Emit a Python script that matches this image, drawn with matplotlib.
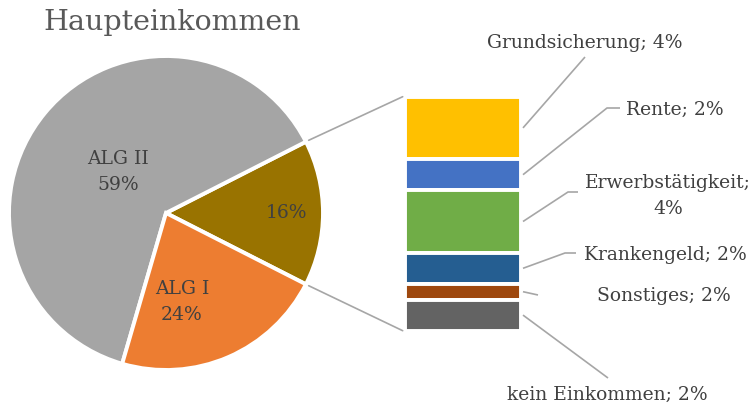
import numpy as np
import matplotlib.pyplot as plt
from matplotlib.patches import ConnectionPatch

plt.rcParams['font.family'] = ['DejaVu Serif']

title = "Haupteinkommen"

# main pie (first slice is the one split into the bar)
pie_categories = ["Sonstige", "ALG II", "ALG I"]
pie_values = [15, 63, 22]
pie_labels = ["16%", "ALG II\n59%", "ALG I\n24%"]

# split of the small slice
bar_categories = ["Grundsicherung", "Rente", "Erwerbstätigkeit",
                  "Krankengeld", "Sonstiges", "kein Einkommen"]
bar_values = [4, 2, 4, 2, 1, 2]
bar_labels = ["Grundsicherung; 4%", "Rente; 2%", "Erwerbstätigkeit;\n4%",
              "Krankengeld; 2%", "Sonstiges; 2%", "kein Einkommen; 2%"]

pie_colors = ["#997300", "#A5A5A5", "#ED7D31"]
bar_colors = ["#FFC000", "#4472C4", "#70AD47", "#255E91", "#9E480E", "#636363"]
text_color = "#404040"
line_color = "#A6A6A6"

W, H = 754, 403
fig = plt.figure(figsize=(W / 100, H / 100), dpi=100)

# pie axes
cx, cy, r = 166, 213, 157
m = 1.04
axp = fig.add_axes([(cx - r * m) / W, (H - cy - r * m) / H, 2 * r * m / W, 2 * r * m / H])
start = -pie_values[0] / sum(pie_values) * 360 / 2
wedges, _ = axp.pie(pie_values, colors=pie_colors, startangle=start, counterclock=True,
                    wedgeprops=dict(edgecolor="white", linewidth=2.8))
axp.set_xlim(-m, m)
axp.set_ylim(-m, m)
axp.set_aspect("equal")

# stacked bar
bx0, bx1, by0, by1 = 405, 521, 96.7, 330.7
axb = fig.add_axes([bx0 / W, (H - by1) / H, (bx1 - bx0) / W, (by1 - by0) / H])
total = sum(bar_values)
bottoms = []
acc = total
for v in bar_values:
    acc -= v
    bottoms.append(acc)
axb.bar([0] * len(bar_values), bar_values, bottom=bottoms, width=1,
        color=bar_colors, edgecolor="white", linewidth=2.8)
axb.set_xlim(-0.5, 0.5)
axb.set_ylim(0, total)
axb.axis("off")

# base axes in pixel coords (y down) for texts and leader lines, on top
ax = fig.add_axes([0, 0, 1, 1])
ax.set_xlim(0, W)
ax.set_ylim(H, 0)
ax.axis("off")
ax.set_zorder(10)

# pie labels
pie_label_pos = [(286, 213), (118, 172), (182, 302)]
for lab, (x, y) in zip(pie_labels, pie_label_pos):
    ax.text(x, y, lab, ha="center", va="center", fontsize=13.5, color=text_color,
            linespacing=1.5)

# connector lines pie -> bar
w0 = wedges[0]
for ang, yb in [(w0.theta2, total), (w0.theta1, 0)]:
    xa, ya = np.cos(np.radians(ang)) * 1.02, np.sin(np.radians(ang)) * 1.02
    con = ConnectionPatch(xyA=(xa, ya), coordsA=axp.transData,
                          xyB=(-0.52, yb), coordsB=axb.transData,
                          color=line_color, linewidth=1.2)
    fig.add_artist(con)

# leader lines and bar labels
leader_pts = [[(585, 57)],
              [(607, 108), (620, 108)],
              [(568, 192), (578, 192)],
              [(565, 253), (576, 253)],
              [(538, 295)],
              [(608, 378)]]
label_pos = [(585, 43, "center"), (626, 110, "left"), (668, 196, "center"),
             (584, 255, "left"), (597, 296, "left"), (607, 395, "center")]

to_base = ax.transData.inverted()
for v, b, lab, pts, (tx, ty, ha) in zip(bar_values, bottoms, bar_labels, leader_pts, label_pos):
    disp = axb.transData.transform((0.5, b + v / 2))
    x0, y0 = to_base.transform(disp)
    xs = [x0 + 2] + [p[0] for p in pts]
    ys = [y0] + [p[1] for p in pts]
    ax.plot(xs, ys, color=line_color, linewidth=1.2, solid_capstyle="butt")
    ax.text(tx, ty, lab, ha=ha, va="center", fontsize=13.5, color=text_color,
            linespacing=1.5, multialignment="center")

ax.text(172, 30, title, ha="center", va="baseline", fontsize=20.5, color="#595959")

fig.savefig("out.png", dpi=100)
